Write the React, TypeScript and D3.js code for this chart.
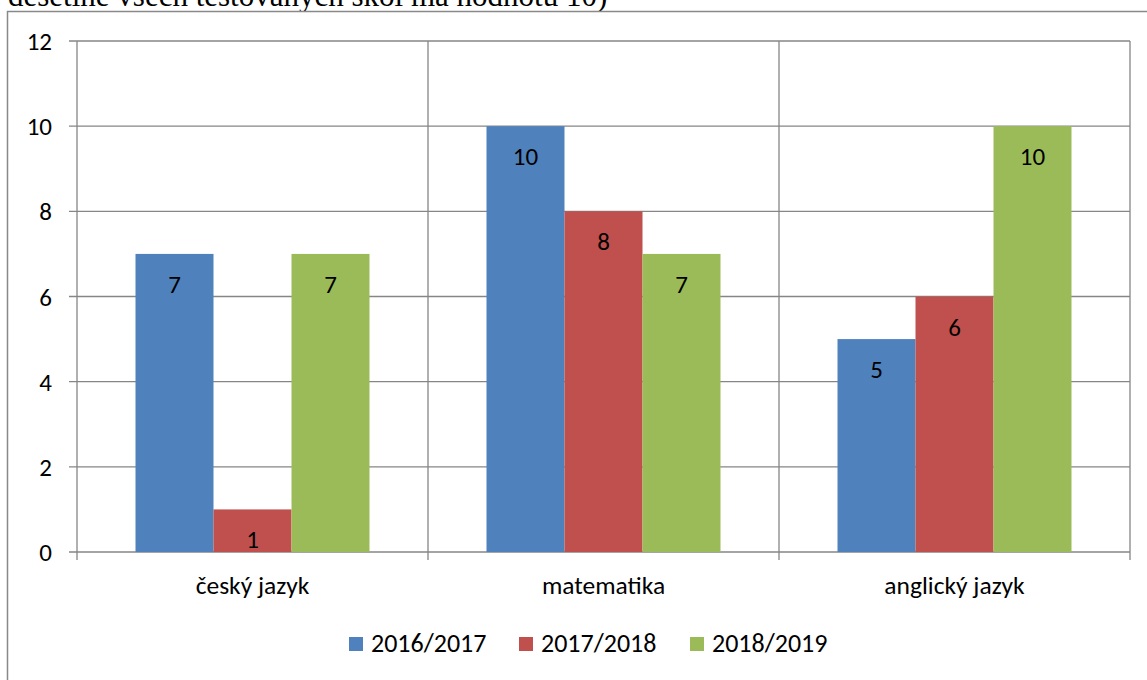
import React from 'react';
import * as d3 from 'd3';

// chart data
const categories = ['český jazyk', 'matematika', 'anglický jazyk'];
const seriesNames = ['2016/2017', '2017/2018', '2018/2019'];
const values2016 = [7, 10, 5];
const values2017 = [1, 8, 6];
const values2018 = [7, 7, 10];
const yTicks = [0, 2, 4, 6, 8, 10, 12];
const colors = ['#4F81BD', '#C0504D', '#9BBB59'];
const caption = 'desetině všech testovaných škol má hodnotu 10)';

const W = 1147;
const H = 680;
const plot = { left: 77, right: 1130, top: 41, bottom: 552 };
const gapWidth = 1.5; // excel "gap width" 150%
const font = 'Carlito, Calibri, Lato, sans-serif';
const grid = '#868686';

export default function App() {
  const series = [values2016, values2017, values2018];

  const x0 = d3.scaleBand().domain(categories).range([plot.left, plot.right]);
  const barW = x0.bandwidth() / (seriesNames.length + gapWidth);
  const x1 = d3
    .scaleBand()
    .domain(seriesNames)
    .range([(barW * gapWidth) / 2, x0.bandwidth() - (barW * gapWidth) / 2]);
  const y = d3.scaleLinear().domain([0, 12]).range([plot.bottom, plot.top]);

  const bounds = [...categories.map(c => x0(c) as number), plot.right];

  // legend layout
  const legendX = [349, 519, 690];

  return (
    <svg width={W} height={H} style={{ position: 'absolute', left: 0, top: 0, background: '#fff' }}>
      <text x={8} y={6} fontFamily="'Liberation Serif', 'Times New Roman', serif" fontSize={31} fill="#000">
        {caption}
      </text>
      <rect x={7.5} y={11.5} width={W + 20} height={H + 20} fill="#fff" stroke="#898989" strokeWidth={1.5} />

      {/* horizontal gridlines + y ticks */}
      {yTicks.map(t => (
        <g key={t}>
          <line x1={plot.left - 8} x2={plot.right} y1={y(t)} y2={y(t)} stroke={grid} strokeWidth={1.3} />
          <text x={52} y={y(t) + 9} textAnchor="end" fontFamily={font} fontSize={25} fill="#000">
            {t}
          </text>
        </g>
      ))}

      {/* vertical gridlines at category bounds */}
      {bounds.map((b, i) => (
        <line key={i} x1={b} x2={b} y1={plot.top} y2={plot.bottom + 8} stroke={grid} strokeWidth={1.3} />
      ))}

      {/* bars */}
      {categories.map((c, ci) => (
        <g key={c} transform={`translate(${x0(c)},0)`}>
          {series.map((vals, si) => {
            const bx = x1(seriesNames[si]) as number;
            const v = vals[ci];
            return (
              <g key={si}>
                <rect x={bx} y={y(v)} width={x1.bandwidth()} height={y(0) - y(v)} fill={colors[si]} />
                <text
                  x={bx + x1.bandwidth() / 2}
                  y={y(v) + 39}
                  textAnchor="middle"
                  fontFamily={font}
                  fontSize={25}
                  fill="#000"
                >
                  {v}
                </text>
              </g>
            );
          })}
          <text
            x={x0.bandwidth() / 2}
            y={594}
            textAnchor="middle"
            fontFamily={font}
            fontSize={25.5}
            fill="#000"
          >
            {c}
          </text>
        </g>
      ))}

      {/* legend */}
      {seriesNames.map((s, i) => (
        <g key={s}>
          <rect x={legendX[i]} y={637} width={14} height={14} fill={colors[i]} />
          <text x={legendX[i] + 22} y={652} fontFamily={font} fontSize={26} fill="#000">
            {s}
          </text>
        </g>
      ))}
    </svg>
  );
}
